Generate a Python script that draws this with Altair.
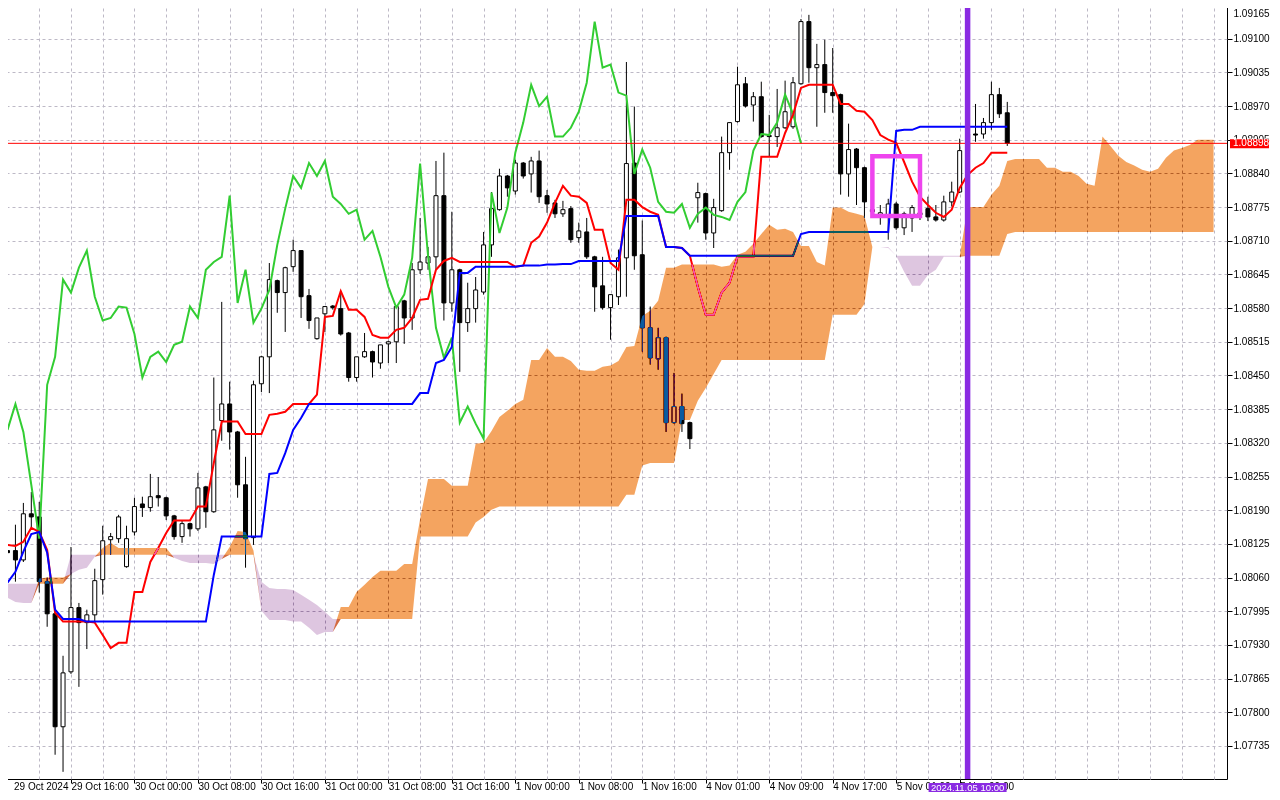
import json
import altair as alt
import pandas as pd

# ---------------- data (EURUSD H1, Ichimoku) ----------------
tick_labels = ["29 Oct 2024", "29 Oct 16:00", "30 Oct 00:00", "30 Oct 08:00", "30 Oct 16:00",
               "31 Oct 00:00", "31 Oct 08:00", "31 Oct 16:00", "1 Nov 00:00", "1 Nov 08:00",
               "1 Nov 16:00", "4 Nov 01:00", "4 Nov 09:00", "4 Nov 17:00", "5 Nov 01:00",
               "5 Nov 09:00"]
price_ticks = [1.07735, 1.07800, 1.07865, 1.07930, 1.07995, 1.08060, 1.08125, 1.08190,
               1.08255, 1.08320, 1.08385, 1.08450, 1.08515, 1.08580, 1.08645, 1.08710,
               1.08775, 1.08840, 1.08905, 1.08970, 1.09035, 1.09100, 1.09165]

opens = [1.08112, 1.08112, 1.08094, 1.08183, 1.08177, 1.08052, 1.07990, 1.07772, 1.07878, 1.08002,
         1.07973, 1.07988, 1.08056, 1.08133, 1.08135, 1.08081, 1.08148, 1.08202, 1.08195, 1.08218,
         1.08214, 1.08179, 1.08139, 1.08164, 1.08154, 1.08235, 1.08187, 1.08363, 1.08395, 1.08341,
         1.08239, 1.08137, 1.08434, 1.08486, 1.08633, 1.08610, 1.08660, 1.08691, 1.08604, 1.08521,
         1.08569, 1.08584, 1.08579, 1.08532, 1.08446, 1.08486, 1.08496, 1.08474, 1.08511, 1.08515,
         1.08594, 1.08561, 1.08654, 1.08667, 1.08679, 1.08797, 1.08590, 1.08654, 1.08552, 1.08579,
         1.08611, 1.08702, 1.08770, 1.08835, 1.08806, 1.08860, 1.08839, 1.08864, 1.08797, 1.08783,
         1.08762, 1.08772, 1.08716, 1.08727, 1.08679, 1.08623, 1.08581, 1.08602, 1.08677, 1.08860,
         1.08683, 1.08542, 1.08482, 1.08523, 1.08359, 1.08390, 1.08359, 1.08793, 1.08801, 1.08725,
         1.08768, 1.08880, 1.08940, 1.09013, 1.08972, 1.08988, 1.08913, 1.08911, 1.08928, 1.08930,
         1.09013, 1.09133, 1.09044, 1.09050, 1.08996, 1.08992, 1.08839, 1.08887, 1.08851, 1.08770,
         1.08756, 1.08756, 1.08781, 1.08735, 1.08754, 1.08764, 1.08772, 1.08756, 1.08750, 1.08785,
         1.08804, 1.08884, 1.08916, 1.08916, 1.08938, 1.08992, 1.08957]

highs = [1.08119, 1.08162, 1.08204, 1.08225, 1.08206, 1.08060, 1.07998, 1.07909, 1.08119, 1.08011,
         1.07998, 1.08077, 1.08160, 1.08146, 1.08181, 1.08160, 1.08214, 1.08216, 1.08260, 1.08254,
         1.08216, 1.08181, 1.08171, 1.08166, 1.08262, 1.08237, 1.08446, 1.08592, 1.08438, 1.08343,
         1.08293, 1.08440, 1.08488, 1.08667, 1.08635, 1.08660, 1.08712, 1.08692, 1.08617, 1.08561,
         1.08583, 1.08586, 1.08613, 1.08534, 1.08486, 1.08532, 1.08498, 1.08509, 1.08517, 1.08584,
         1.08596, 1.08667, 1.08754, 1.08698, 1.08864, 1.08880, 1.08766, 1.08656, 1.08629, 1.08640,
         1.08727, 1.08804, 1.08849, 1.08837, 1.08866, 1.08862, 1.08872, 1.08884, 1.08808, 1.08789,
         1.08787, 1.08777, 1.08745, 1.08754, 1.08681, 1.08679, 1.08606, 1.08693, 1.09055, 1.08969,
         1.08749, 1.08583, 1.08542, 1.08525, 1.08455, 1.08415, 1.08361, 1.08822, 1.08803, 1.08791,
         1.08911, 1.08938, 1.09046, 1.09026, 1.08997, 1.09017, 1.08953, 1.09003, 1.09019, 1.09026,
         1.09138, 1.09146, 1.09090, 1.09098, 1.09082, 1.08994, 1.08936, 1.08889, 1.08853, 1.08779,
         1.08779, 1.08791, 1.08785, 1.08766, 1.08779, 1.08774, 1.08795, 1.08779, 1.08797, 1.08824,
         1.08907, 1.08932, 1.08974, 1.08947, 1.09017, 1.09005, 1.08978]

lows = [1.08100, 1.08052, 1.08090, 1.08156, 1.08031, 1.07965, 1.07718, 1.07685, 1.07874, 1.07849,
        1.07922, 1.07973, 1.08027, 1.08104, 1.08127, 1.08079, 1.08141, 1.08177, 1.08187, 1.08197,
        1.08171, 1.08133, 1.08127, 1.08139, 1.08150, 1.08156, 1.08185, 1.08324, 1.08307, 1.08214,
        1.08079, 1.08123, 1.08418, 1.08416, 1.08571, 1.08534, 1.08650, 1.08561, 1.08540, 1.08519,
        1.08534, 1.08577, 1.08527, 1.08438, 1.08438, 1.08484, 1.08446, 1.08463, 1.08474, 1.08474,
        1.08511, 1.08538, 1.08646, 1.08654, 1.08654, 1.08556, 1.08573, 1.08457, 1.08534, 1.08552,
        1.08606, 1.08679, 1.08768, 1.08795, 1.08799, 1.08830, 1.08803, 1.08783, 1.08764, 1.08754,
        1.08756, 1.08706, 1.08706, 1.08675, 1.08573, 1.08577, 1.08519, 1.08586, 1.08602, 1.08654,
        1.08496, 1.08471, 1.08461, 1.08341, 1.08357, 1.08341, 1.08308, 1.08745, 1.08712, 1.08696,
        1.08766, 1.08847, 1.08938, 1.08967, 1.08940, 1.08909, 1.08872, 1.08891, 1.08926, 1.08926,
        1.09011, 1.09015, 1.08930, 1.08957, 1.08957, 1.08799, 1.08795, 1.08779, 1.08754, 1.08756,
        1.08741, 1.08712, 1.08731, 1.08721, 1.08727, 1.08750, 1.08748, 1.08747, 1.08747, 1.08776,
        1.08802, 1.08866, 1.08901, 1.08907, 1.08924, 1.08947, 1.08893]

closes = [1.08108, 1.08094, 1.08183, 1.08177, 1.08052, 1.07990, 1.07772, 1.07876, 1.08002, 1.07973,
          1.07988, 1.08054, 1.08131, 1.08139, 1.08177, 1.08135, 1.08197, 1.08195, 1.08216, 1.08214,
          1.08179, 1.08139, 1.08164, 1.08154, 1.08233, 1.08187, 1.08345, 1.08395, 1.08341, 1.08239,
          1.08135, 1.08432, 1.08486, 1.08635, 1.08610, 1.08658, 1.08691, 1.08602, 1.08556, 1.08561,
          1.08583, 1.08581, 1.08530, 1.08446, 1.08486, 1.08496, 1.08476, 1.08509, 1.08515, 1.08583,
          1.08561, 1.08654, 1.08669, 1.08679, 1.08797, 1.08590, 1.08654, 1.08552, 1.08579, 1.08615,
          1.08702, 1.08772, 1.08835, 1.08812, 1.08860, 1.08835, 1.08864, 1.08795, 1.08781, 1.08762,
          1.08770, 1.08712, 1.08729, 1.08679, 1.08621, 1.08581, 1.08606, 1.08677, 1.08859, 1.08681,
          1.08542, 1.08484, 1.08523, 1.08359, 1.08390, 1.08357, 1.08328, 1.08803, 1.08725, 1.08774,
          1.08880, 1.08938, 1.09011, 1.08970, 1.08988, 1.08911, 1.08911, 1.08928, 1.08959, 1.09015,
          1.09133, 1.09044, 1.09050, 1.08996, 1.08990, 1.08839, 1.08886, 1.08851, 1.08785, 1.08766,
          1.08764, 1.08781, 1.08735, 1.08762, 1.08774, 1.08760, 1.08756, 1.08750, 1.08785, 1.08804,
          1.08884, 1.08916, 1.08914, 1.08938, 1.08992, 1.08955, 1.08898]

tenkan = [1.08123, 1.08121, 1.08129, 1.08156, 1.08148, 1.08113, 1.07992, 1.07975, 1.07975, 1.07975,
          1.07975, 1.07973, 1.07949, 1.07924, 1.07934, 1.07934, 1.08032, 1.08032, 1.08090, 1.08117,
          1.08146, 1.08170, 1.08170, 1.08170, 1.08197, 1.08197, 1.08281, 1.08361, 1.08361, 1.08361,
          1.08337, 1.08337, 1.08337, 1.08374, 1.08376, 1.08380, 1.08395, 1.08395, 1.08395, 1.08413,
          1.08563, 1.08565, 1.08613, 1.08577, 1.08577, 1.08563, 1.08528, 1.08523, 1.08523, 1.08538,
          1.08542, 1.08561, 1.08596, 1.08598, 1.08654, 1.08671, 1.08677, 1.08669, 1.08669, 1.08669,
          1.08669, 1.08669, 1.08669, 1.08669, 1.08660, 1.08662, 1.08706, 1.08718, 1.08745, 1.08783,
          1.08816, 1.08797, 1.08795, 1.08783, 1.08731, 1.08731, 1.08667, 1.08654, 1.08789, 1.08789,
          1.08775, 1.08766, 1.08760, 1.08698, 1.08698, 1.08696, 1.08681, 1.08621, 1.08567, 1.08567,
          1.08610, 1.08629, 1.08679, 1.08679, 1.08679, 1.08872, 1.08872, 1.08872, 1.08918, 1.08953,
          1.09005, 1.09011, 1.09011, 1.09011, 1.09011, 1.08974, 1.08974, 1.08961, 1.08959, 1.08943,
          1.08914, 1.08905, 1.08899, 1.08862, 1.08824, 1.08795, 1.08779, 1.08764, 1.08756, 1.08770,
          1.08812, 1.08837, 1.08851, 1.08860, 1.08880, 1.08880, 1.08880]

kijun = [1.08050, 1.08071, 1.08110, 1.08144, 1.08148, 1.08108, 1.07998, 1.07980, 1.07980, 1.07980,
         1.07975, 1.07975, 1.07975, 1.07975, 1.07975, 1.07975, 1.07975, 1.07975, 1.07975, 1.07975,
         1.07975, 1.07975, 1.07975, 1.07975, 1.07975, 1.07975, 1.08065, 1.08139, 1.08139, 1.08139,
         1.08139, 1.08139, 1.08139, 1.08260, 1.08262, 1.08300, 1.08345, 1.08368, 1.08395, 1.08395,
         1.08395, 1.08395, 1.08395, 1.08395, 1.08395, 1.08395, 1.08395, 1.08395, 1.08395, 1.08395,
         1.08395, 1.08395, 1.08416, 1.08416, 1.08474, 1.08480, 1.08505, 1.08648, 1.08648, 1.08660,
         1.08660, 1.08660, 1.08660, 1.08660, 1.08660, 1.08662, 1.08662, 1.08662, 1.08664, 1.08664,
         1.08665, 1.08665, 1.08671, 1.08671, 1.08671, 1.08671, 1.08671, 1.08671, 1.08758, 1.08758,
         1.08758, 1.08758, 1.08758, 1.08698, 1.08698, 1.08696, 1.08681, 1.08681, 1.08681, 1.08681,
         1.08681, 1.08681, 1.08681, 1.08681, 1.08681, 1.08681, 1.08681, 1.08681, 1.08681, 1.08681,
         1.08723, 1.08727, 1.08727, 1.08727, 1.08727, 1.08727, 1.08727, 1.08727, 1.08727, 1.08727,
         1.08727, 1.08727, 1.08922, 1.08924, 1.08924, 1.08930, 1.08930, 1.08930, 1.08930, 1.08930,
         1.08930, 1.08930, 1.08930, 1.08930, 1.08930, 1.08930, 1.08930]

span_a = [1.08021, 1.08013, 1.08011, 1.08011, 1.08058, 1.08060, 1.08060, 1.08060, 1.08067, 1.08075,
          1.08079, 1.08100, 1.08117, 1.08127, 1.08117, 1.08117, 1.08117, 1.08117, 1.08117, 1.08117,
          1.08117, 1.08098, 1.08092, 1.08088, 1.08088, 1.08088, 1.08086, 1.08096, 1.08119, 1.08150,
          1.08148, 1.08112, 1.07996, 1.07978, 1.07978, 1.07978, 1.07975, 1.07975, 1.07963, 1.07949,
          1.07955, 1.07955, 1.08003, 1.08003, 1.08032, 1.08046, 1.08061, 1.08073, 1.08073, 1.08073,
          1.08086, 1.08086, 1.08173, 1.08250, 1.08250, 1.08250, 1.08237, 1.08237, 1.08237, 1.08318,
          1.08320, 1.08343, 1.08370, 1.08382, 1.08395, 1.08403, 1.08480, 1.08480, 1.08503, 1.08486,
          1.08486, 1.08478, 1.08461, 1.08459, 1.08459, 1.08467, 1.08469, 1.08478, 1.08505, 1.08507,
          1.08565, 1.08575, 1.08594, 1.08658, 1.08658, 1.08664, 1.08664, 1.08664, 1.08664, 1.08664,
          1.08660, 1.08662, 1.08683, 1.08689, 1.08704, 1.08723, 1.08741, 1.08731, 1.08733, 1.08727,
          1.08700, 1.08700, 1.08669, 1.08662, 1.08774, 1.08774, 1.08766, 1.08762, 1.08758, 1.08698,
          1.08698, 1.08696, 1.08681, 1.08650, 1.08623, 1.08623, 1.08644, 1.08654, 1.08679, 1.08679,
          1.08679, 1.08775, 1.08775, 1.08775, 1.08799, 1.08816, 1.08864, 1.08868, 1.08868, 1.08868,
          1.08868, 1.08851, 1.08851, 1.08843, 1.08843, 1.08835, 1.08820, 1.08816, 1.08911, 1.08893,
          1.08874, 1.08862, 1.08855, 1.08847, 1.08843, 1.08849, 1.08870, 1.08884, 1.08889, 1.08895,
          1.08905, 1.08905, 1.08905]

span_b = [1.08048, 1.08048, 1.08048, 1.08048, 1.08048, 1.08048, 1.08048, 1.08048, 1.08104, 1.08104,
          1.08104, 1.08104, 1.08104, 1.08104, 1.08104, 1.08104, 1.08104, 1.08104, 1.08104, 1.08104,
          1.08104, 1.08104, 1.08104, 1.08104, 1.08104, 1.08104, 1.08104, 1.08104, 1.08104, 1.08104,
          1.08104, 1.08104, 1.08052, 1.08040, 1.08038, 1.08038, 1.08036, 1.08027, 1.08017, 1.08007,
          1.07994, 1.07980, 1.07980, 1.07980, 1.07980, 1.07980, 1.07980, 1.07980, 1.07980, 1.07980,
          1.07980, 1.07980, 1.08139, 1.08139, 1.08139, 1.08139, 1.08139, 1.08139, 1.08139, 1.08166,
          1.08177, 1.08191, 1.08197, 1.08197, 1.08197, 1.08197, 1.08197, 1.08197, 1.08197, 1.08197,
          1.08197, 1.08197, 1.08197, 1.08197, 1.08197, 1.08197, 1.08197, 1.08197, 1.08220, 1.08220,
          1.08276, 1.08281, 1.08281, 1.08281, 1.08281, 1.08364, 1.08364, 1.08401, 1.08426, 1.08453,
          1.08480, 1.08480, 1.08480, 1.08480, 1.08480, 1.08480, 1.08480, 1.08480, 1.08480, 1.08480,
          1.08480, 1.08480, 1.08480, 1.08480, 1.08567, 1.08567, 1.08567, 1.08567, 1.08588, 1.08698,
          1.08698, 1.08698, 1.08681, 1.08681, 1.08681, 1.08681, 1.08681, 1.08681, 1.08681, 1.08681,
          1.08681, 1.08681, 1.08681, 1.08681, 1.08681, 1.08681, 1.08723, 1.08727, 1.08727, 1.08727,
          1.08727, 1.08727, 1.08727, 1.08727, 1.08727, 1.08727, 1.08727, 1.08727, 1.08727, 1.08727,
          1.08727, 1.08727, 1.08727, 1.08727, 1.08727, 1.08727, 1.08727, 1.08727, 1.08727, 1.08727,
          1.08727, 1.08727, 1.08727]

event_index = [121]
event_label = ["2024.11.05 10:00"]
box_index = [109, 115]
box_price = [1.08758, 1.08873]
chikou_shift = 26

# ---------------- tables ----------------
n = len(closes)
idx = list(range(n))
candles = pd.DataFrame({"i": idx, "open": opens, "high": highs, "low": lows, "close": closes})
lines = pd.DataFrame({"i": idx, "tenkan": tenkan, "kijun": kijun})
chikou = pd.DataFrame({"i": list(range(n - chikou_shift)), "v": closes[chikou_shift:]})
cloud = pd.DataFrame({"i": list(range(len(span_a))), "a": span_a, "b": span_b})
cloud["up_lo"] = cloud["b"].where(cloud["a"] >= cloud["b"], cloud["a"])
cloud["dn_lo"] = cloud["a"].where(cloud["b"] > cloud["a"], cloud["b"])
last = closes[-1]
price_df = pd.DataFrame({"p": [last], "top": [last + 0.0000772], "bot": [last - 0.0000965],
                         "label": [f"{last:.5f}"]})
event_df = pd.DataFrame({"i": event_index, "label": event_label})
box_df = pd.DataFrame({"i0": [box_index[0]], "i1": [box_index[1]],
                       "p0": [box_price[0]], "p1": [box_price[1]]})

# ---------------- scales / axes ----------------
W, H = 1225, 777
FONT = "Liberation Sans"
GRID = "#bdb9c6"
xs = alt.Scale(domain=[-0.0625, 153.0625], nice=False, zero=False)
ys = alt.Scale(domain=[1.0767118, 1.0917079], nice=False, zero=False)

lab_test = "datum.value % 8 == 0 && datum.value <= 120"
xaxis = alt.Axis(values=list(range(0, 153, 4)), title=None, domain=False,
                 grid=True, gridColor=GRID, gridDash=[3, 3], gridWidth=1,
                 labelExpr=f"{lab_test} ? {json.dumps(tick_labels)}[datum.value / 8] : ''",
                 labelAlign="left", labelBaseline="top", labelPadding=-2,
                 labelOffset={"condition": {"test": "datum.value == 0", "value": 6}, "value": 0},
                 labelFlush=False, labelOverlap=False, labelFont=FONT, labelFontSize=10,
                 labelColor="black", tickColor="black", tickSize=4,
                 tickOpacity={"condition": {"test": lab_test, "value": 1}, "value": 0})
yaxis = alt.Axis(orient="right", values=price_ticks, format=".5f", title=None, domain=False,
                 grid=True, gridColor=GRID, gridDash=[3, 3], gridWidth=1,
                 labelFont=FONT, labelFontSize=10, labelColor="black", labelPadding=1,
                 labelOffset={"condition": {"test": "datum.value > 1.0916", "value": 8}, "value": 0},
                 labelFlush=False, labelOverlap=False, tickColor="black", tickSize=5)


def X(f):
    return alt.X(f, type="quantitative", scale=xs, axis=xaxis)


def Y(f):
    return alt.Y(f, type="quantitative", scale=ys, axis=yaxis)


wicks = alt.Chart(candles).mark_rule(color="black", strokeWidth=1).encode(
    x=X("i"), y=Y("low"), y2="high")
bodies = alt.Chart(candles).mark_bar(width=4, stroke="black", strokeWidth=1).encode(
    x=X("i"), y=Y("open"), y2="close",
    fill=alt.condition("datum.close > datum.open", alt.value("white"), alt.value("black")))
chik = alt.Chart(chikou).mark_line(color="#32cd32", strokeWidth=2).encode(x=X("i"), y=Y("v"))
tk = alt.Chart(lines).mark_line(color="#ff0000", strokeWidth=2).encode(x=X("i"), y=Y("tenkan"))
kj = alt.Chart(lines).mark_line(color="#0000ff", strokeWidth=2).encode(x=X("i"), y=Y("kijun"))
# cloud drawn as inverted colours with "difference" blend (MT4 XOR look)
up = alt.Chart(cloud).mark_area(color="#0b5b9f", blend="difference", opacity=1).encode(
    x=X("i"), y=Y("a"), y2="up_lo")
dn = alt.Chart(cloud).mark_area(color="#21391f", blend="difference", opacity=1).encode(
    x=X("i"), y=Y("b"), y2="dn_lo")
pline = alt.Chart(price_df).mark_rule(color="#ff0000", strokeWidth=1).encode(y=Y("p"))
mbox = alt.Chart(box_df).mark_rect(fillOpacity=0, stroke="#ee44ee", strokeWidth=4.5).encode(
    x=X("i0"), x2="i1", y=Y("p0"), y2="p1")
vline = alt.Chart(event_df).mark_rule(color="#8a2be2", strokeWidth=5.5).encode(x=X("i"))
lbox = alt.Chart(event_df).mark_bar(width=78, color="#8a2be2").encode(
    x=X("i"), y=alt.value(H + 4), y2=alt.value(H + 16))
ltext = alt.Chart(event_df).mark_text(color="white", font=FONT, fontSize=9.5,
                                      align="center", baseline="middle").encode(
    x=X("i"), y=alt.value(H + 9), text="label")
pbox = alt.Chart(price_df).mark_rect(color="#ff0000").encode(
    x=alt.value(W + 3), x2=alt.value(W + 42), y=Y("top"), y2="bot")
ptext = alt.Chart(price_df).mark_text(color="white", font=FONT, fontSize=10,
                                      align="left", baseline="middle").encode(
    x=alt.value(W + 6), y=Y("p"), text="label")

chart = alt.layer(wicks, bodies, chik, tk, kj, up, dn, pline, mbox, vline,
                  lbox, ltext, pbox, ptext).properties(
    width=W, height=H, background="white",
    autosize=alt.AutoSizeParams(type="none"),
    padding={"left": -6, "top": -6, "right": 45, "bottom": 13},
).configure_view(stroke="black", strokeWidth=1)

chart.save("out.html", embed_options={"renderer": "svg", "actions": False})
